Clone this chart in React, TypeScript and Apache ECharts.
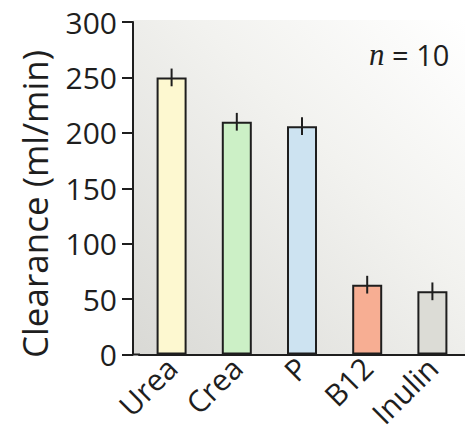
import React, { useEffect, useRef } from "react";
import * as echarts from "echarts";

const categories = ["Urea", "Crea", "P", "B12", "Inulin"];
const clearance = [250, 210, 206, 63, 57];
const sem = [8, 8, 8, 8, 8];
const barColors = ["#fdf8d0", "#ccf0c6", "#cde3f1", "#f7ae93", "#dcdcd6"];
const yTicks = { min: 0, max: 300, interval: 50 };
const yName = "Clearance (ml/min)";

const FONT = "'Open Sans', 'Noto Sans', sans-serif";
const INK = "#1e1e1e";

export default function App() {
  const ref = useRef<HTMLDivElement>(null);
  useEffect(() => {
    if (!ref.current) return;
    const chart = echarts.init(ref.current, undefined, { renderer: "svg" });
    const gridLeft = 139;
    const gridTop = 22;
    const gridHeight = 332.5;
    const axisX = 133;
    const bottomY = gridTop + gridHeight;
    chart.setOption({
      animation: false,
      backgroundColor: "#ffffff",
      title: {
        text: "{i|n} = 10",
        left: 364,
        top: 34,
        textStyle: {
          fontFamily: FONT,
          fontSize: 29,
          fontWeight: "normal",
          color: INK,
          rich: {
            i: { fontFamily: "'Liberation Serif', serif", fontStyle: "italic", fontSize: 31, color: INK },
          },
        },
      },
      graphic: [
        {
          type: "rect",
          z: -10,
          silent: true,
          shape: { x: axisX, y: gridTop - 2, width: 465 - axisX, height: bottomY - gridTop + 2 },
          style: {
            fill: new echarts.graphic.LinearGradient(0, 1, 1, 0, [
              { offset: 0, color: "#d9d9d5" },
              { offset: 0.6, color: "#f2f2ef" },
              { offset: 1, color: "#ffffff" },
            ]),
          },
        },
        {
          type: "line",
          z: 5,
          silent: true,
          shape: { x1: axisX - 1, y1: bottomY, x2: gridLeft + 1, y2: bottomY },
          style: { stroke: INK, lineWidth: 2 },
        },
        {
          type: "text",
          x: 34,
          y: 204,
          rotation: Math.PI / 2,
          silent: true,
          style: {
            text: yName,
            fontSize: 35,
            fontFamily: FONT,
            fill: INK,
            align: "center",
            verticalAlign: "middle",
          },
        },
      ],
      grid: { left: gridLeft, top: gridTop, height: gridHeight, width: 327.6 },
      xAxis: {
        type: "category",
        data: categories,
        axisLine: { show: true, lineStyle: { color: INK, width: 2 } },
        axisTick: { show: false },
        axisLabel: {
          rotate: 45,
          margin: 8,
          fontSize: 30,
          fontFamily: FONT,
          color: INK,
          interval: 0,
        },
      },
      yAxis: {
        type: "value",
        min: yTicks.min,
        max: yTicks.max,
        interval: yTicks.interval,
        offset: gridLeft - axisX,
        splitLine: { show: false },
        axisLine: { show: true, lineStyle: { color: INK, width: 2 } },
        axisTick: { show: true, inside: false, length: 11, lineStyle: { color: INK, width: 2 } },
        axisLabel: { margin: 16, fontSize: 30, fontFamily: FONT, color: INK },
      },
      series: [
        {
          type: "bar",
          barWidth: 30,
          data: clearance.map((v, i) => ({
            value: v,
            itemStyle: { color: barColors[i], borderColor: INK, borderWidth: 2 },
          })),
        },
        {
          type: "custom",
          z: 5,
          data: clearance.map((v, i) => [i, v, sem[i]]),
          renderItem: (params: any, api: any) => {
            const x = api.value(0);
            const y = api.value(1);
            const e = api.value(2);
            const p1 = api.coord([x, y + e]);
            const p2 = api.coord([x, y - e]);
            return {
              type: "line",
              shape: { x1: p1[0], y1: p1[1], x2: p2[0], y2: p2[1] },
              style: { stroke: INK, lineWidth: 2 },
            };
          },
        },
      ],
    });
    return () => chart.dispose();
  }, []);
  return (
    <div
      ref={ref}
      style={{ position: "absolute", left: 0, top: 0, width: 465, height: 432 }}
    />
  );
}
